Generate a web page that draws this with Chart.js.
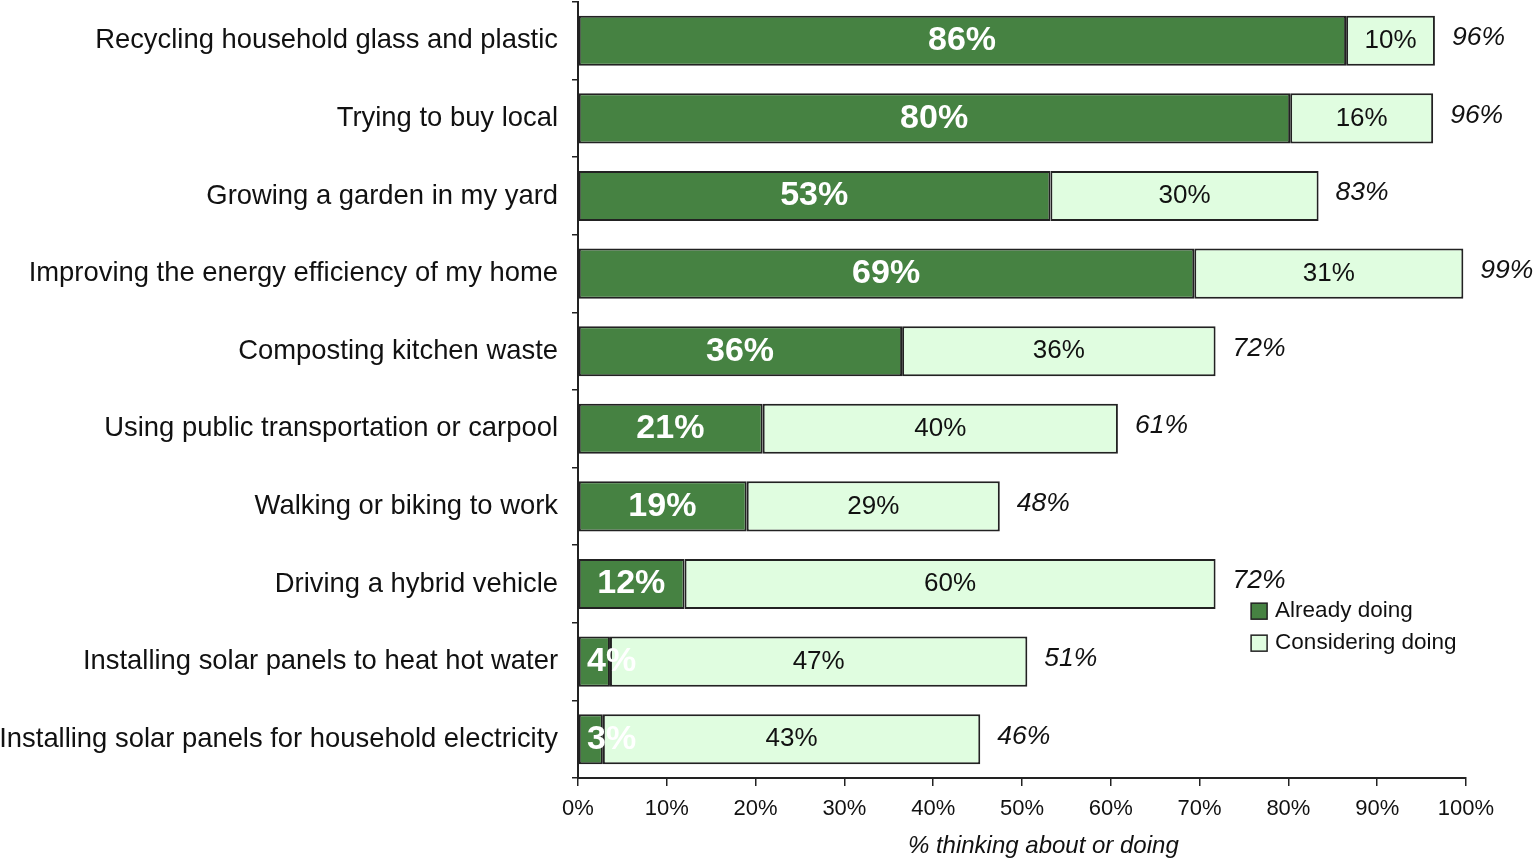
<!DOCTYPE html>
<html>
<head>
<meta charset="utf-8">
<script src="https://cdn.jsdelivr.net/npm/chart.js@4/dist/chart.umd.min.js"></script>
<style>
  html, body { margin: 0; padding: 0; background: #fff; }
  #wrap { position: relative; width: 1537px; height: 858px; }
</style>
</head>
<body>
<div id="wrap"><canvas id="c"></canvas></div>
<script>
// ---------- data ----------
var categories = [
  "Recycling household glass and plastic",
  "Trying to buy local",
  "Growing a garden in my yard",
  "Improving the energy efficiency of my home",
  "Composting kitchen waste",
  "Using public transportation or carpool",
  "Walking or biking to work",
  "Driving a hybrid vehicle",
  "Installing solar panels to heat hot water",
  "Installing solar panels for household electricity"
];
var alreadyDoing     = [86.5, 80.2, 53.2, 69.4, 36.5, 20.8, 19.0, 12.0, 3.6, 2.8];
var consideringDoing = [10.0, 16.1, 30.2, 30.3, 35.3, 40.0, 28.5, 59.8, 47.0, 42.5];
var alreadyLabels     = ["86%", "80%", "53%", "69%", "36%", "21%", "19%", "12%", "4%", "3%"];
var consideringLabels = ["10%", "16%", "30%", "31%", "36%", "40%", "29%", "60%", "47%", "43%"];
var totalLabels       = ["96%", "96%", "83%", "99%", "72%", "61%", "48%", "72%", "51%", "46%"];
var xTicks = [0, 10, 20, 30, 40, 50, 60, 70, 80, 90, 100];
var seriesNames = ["Already doing", "Considering doing"];
var xTitle = "% thinking about or doing";

var COLORS = { dark: "#468242", light: "#e0fde0", edge: "#222222", ink: "#111111" };
var FONT = "'Liberation Sans', Arial, sans-serif";

// ---------- labels inside / after the bars ----------
var barLabels = {
  id: "barLabels",
  afterDatasetsDraw: function (chart) {
    var ctx = chart.ctx;
    var x = chart.scales.x;
    var m0 = chart.getDatasetMeta(0), m1 = chart.getDatasetMeta(1);
    ctx.save();
    ctx.textBaseline = "middle";
    categories.forEach(function (_, i) {
      var b0 = m0.data[i], b1 = m1.data[i];
      var y = b0.y;
      var x0 = x.getPixelForValue(0);
      // already doing: bold white, centred in dark segment
      ctx.fillStyle = "#ffffff";
      ctx.font = "bold 34px " + FONT;
      ctx.textAlign = "center";
      var cx = (x0 + b0.x) / 2;
      if (b0.x - x0 < 60) { ctx.textAlign = "left"; cx = x0 + 9; }
      ctx.fillText(alreadyLabels[i], cx, y);
      // considering: black, centred in light segment
      ctx.fillStyle = COLORS.ink;
      ctx.font = "26px " + FONT;
      ctx.textAlign = "center";
      ctx.fillText(consideringLabels[i], (b0.x + b1.x) / 2, y);
      // total: italic, right of bar
      ctx.font = "italic 26.5px " + FONT;
      ctx.textAlign = "left";
      ctx.fillText(totalLabels[i], b1.x + 17, y - 3);
    });
    // axis title
    ctx.font = "italic 24px " + FONT;
    ctx.textAlign = "center";
    ctx.fillStyle = COLORS.ink;
    ctx.fillText(xTitle, x.getPixelForValue(52.4), x.bottom - 12);
    ctx.restore();
  }
};

// ---------- legend drawn in the lower right ----------
var sideLegend = {
  id: "sideLegend",
  afterDraw: function (chart) {
    var ctx = chart.ctx;
    var x = chart.scales.x.getPixelForValue(75.8);
    var y = chart.scales.y.getPixelForValue(7.35);
    var fills = [COLORS.dark, COLORS.light];
    ctx.save();
    ctx.font = "22.5px " + FONT;
    ctx.textBaseline = "middle";
    ctx.textAlign = "left";
    seriesNames.forEach(function (name, i) {
      var yy = y + i * 32;
      ctx.fillStyle = fills[i];
      ctx.fillRect(x, yy - 8, 16, 16);
      ctx.strokeStyle = COLORS.edge;
      ctx.lineWidth = 1.5;
      ctx.strokeRect(x, yy - 8, 16, 16);
      ctx.fillStyle = COLORS.ink;
      ctx.fillText(name, x + 24, yy);
    });
    ctx.restore();
  }
};

new Chart(document.getElementById("c").getContext("2d"), {
  type: "bar",
  data: {
    labels: categories,
    datasets: [
      { label: seriesNames[0], data: alreadyDoing, backgroundColor: COLORS.dark,
        borderColor: COLORS.edge, borderWidth: 2, borderSkipped: false },
      { label: seriesNames[1], data: consideringDoing, backgroundColor: COLORS.light,
        borderColor: COLORS.edge, borderWidth: 2, borderSkipped: false }
    ]
  },
  options: {
    indexAxis: "y",
    responsive: true, maintainAspectRatio: false, animation: false,
    layout: { padding: { left: 0, right: 71, top: 2, bottom: 0 } },
    datasets: { bar: { categoryPercentage: 1, barPercentage: 0.645 } },
    plugins: { legend: { display: false }, tooltip: { enabled: false } },
    scales: {
      x: {
        stacked: true, min: 0, max: 100,
        afterBuildTicks: function (s) { s.ticks = xTicks.map(function (v) { return { value: v }; }); },
        grid: { drawOnChartArea: false, tickLength: 8, color: COLORS.edge, lineWidth: 1.5 },
        border: { color: COLORS.edge, width: 2 },
        ticks: { color: COLORS.ink, font: { family: FONT, size: 22 }, padding: 10,
                 callback: function (v) { return v + "%"; } },
        afterFit: function (s) { s.height = 80; s.paddingLeft = 0; s.paddingRight = 0; }
      },
      y: {
        stacked: true,
        grid: { drawOnChartArea: false, offset: true, tickLength: 6, color: COLORS.edge, lineWidth: 1.5 },
        border: { color: COLORS.edge, width: 2 },
        ticks: { color: COLORS.ink, font: { family: FONT, size: 27.4 }, padding: 14 },
        afterFit: function (s) { s.width = 578; s.paddingTop = 0; s.paddingBottom = 0; }
      }
    }
  },
  plugins: [barLabels, sideLegend]
});
</script>
</body>
</html>
